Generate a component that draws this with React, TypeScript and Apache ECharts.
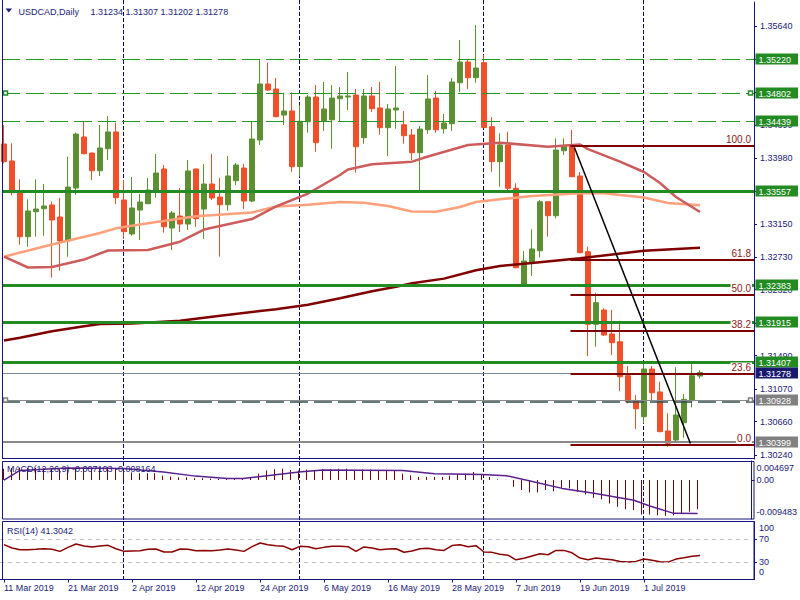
import React, { useEffect, useRef } from 'react';
import * as echarts from 'echarts';

// ---------------- data ----------------
const SYMBOL = 'USDCAD,Daily';
const SLOTS = 94; // bar slots across the chart (88 bars + right shift)

const OPEN = [1.34155,1.33941,1.33550,1.32988,1.33302,1.33340,1.33387,1.33236,1.32934,1.33601,
1.34243,1.34041,1.33818,1.34095,1.34306,1.33450,1.33022,1.33324,1.33403,1.33550,
1.33840,1.33097,1.33248,1.33147,1.33840,1.33336,1.33651,1.33487,1.33390,1.33693,
1.33852,1.33437,1.34205,1.34910,1.34847,1.34519,1.34570,1.33869,1.34435,1.34746,
1.34444,1.34460,1.34725,1.34746,1.34771,1.34234,1.34759,1.34608,1.34360,1.34582,
1.34397,1.34268,1.34045,1.34334,1.34733,1.34347,1.34410,1.34926,1.35187,1.34989,
1.35178,1.34372,1.33932,1.34142,1.33597,1.32380,1.32660,1.32811,1.33428,1.33252,
1.34070,1.34129,1.33752,1.32799,1.31885,1.32065,1.31763,1.31666,1.31238,1.30923,
1.30722,1.31322,1.31033,1.30542,1.30428,1.30646,1.30923,1.31234];

const HIGH = [1.34394,1.34163,1.33710,1.33458,1.33710,1.33651,1.33433,1.33475,1.33995,1.34297,
1.34444,1.34045,1.34394,1.34507,1.34423,1.33701,1.33739,1.33525,1.33726,1.34028,
1.33890,1.33311,1.33601,1.33953,1.33845,1.33903,1.34028,1.33726,1.34003,1.33915,
1.33903,1.34444,1.35221,1.35178,1.34985,1.34800,1.34805,1.34645,1.34771,1.34897,
1.34935,1.34897,1.34872,1.35061,1.34847,1.34847,1.34872,1.34935,1.34658,1.35136,
1.34570,1.34343,1.34381,1.35023,1.34822,1.34532,1.34985,1.35464,1.35212,1.35652,
1.35275,1.34494,1.34289,1.34309,1.33660,1.32808,1.33081,1.33450,1.33435,1.34226,
1.34226,1.34331,1.33802,1.32862,1.32283,1.32086,1.32065,1.31930,1.31360,1.30995,
1.31394,1.31360,1.31162,1.30765,1.31344,1.31008,1.31394,1.31307];

const LOW = [1.33912,1.33509,1.32887,1.32862,1.32988,1.33000,1.32471,1.32560,1.32736,1.33516,
1.34025,1.33701,1.33752,1.33953,1.33399,1.32959,1.33000,1.32946,1.33398,1.33478,
1.33038,1.32820,1.33047,1.33072,1.33113,1.32959,1.33450,1.32736,1.33315,1.33638,
1.33336,1.33424,1.34142,1.34825,1.34492,1.34394,1.33806,1.33743,1.34297,1.34057,
1.34318,1.34095,1.34444,1.34582,1.33793,1.34158,1.34557,1.34272,1.34003,1.34347,
1.34158,1.33953,1.33566,1.34284,1.34297,1.34284,1.34318,1.34809,1.34847,1.34926,
1.34355,1.33806,1.33617,1.33575,1.32590,1.32367,1.32493,1.32728,1.32988,1.33219,
1.34016,1.33738,1.32780,1.31486,1.31603,1.31737,1.31498,1.31045,1.30890,1.30567,
1.30639,1.30932,1.30528,1.30344,1.30407,1.30457,1.30840,1.31202];

const CLOSE = [1.33932,1.33542,1.32988,1.33311,1.33336,1.33374,1.33198,1.32934,1.33613,1.34280,
1.34032,1.33818,1.34104,1.34306,1.33478,1.33051,1.33349,1.33424,1.33575,1.33789,
1.33113,1.33286,1.33147,1.33815,1.33214,1.33651,1.33475,1.33390,1.33752,1.33890,
1.33437,1.34217,1.34910,1.34834,1.34498,1.34570,1.33869,1.34440,1.34746,1.34171,
1.34595,1.34733,1.34759,1.34759,1.34120,1.34759,1.34599,1.34360,1.34595,1.34608,
1.34259,1.34045,1.34343,1.34721,1.34334,1.34419,1.34935,1.35187,1.34989,1.35111,
1.34362,1.33932,1.34142,1.33597,1.32597,1.32682,1.32833,1.33428,1.33252,1.34079,
1.34120,1.33743,1.32786,1.31885,1.32157,1.31750,1.31653,1.31225,1.30911,1.30822,
1.31322,1.31024,1.30533,1.30387,1.30743,1.30941,1.31238,1.31278];

const X_LABELS = ['11 Mar 2019','21 Mar 2019','2 Apr 2019','12 Apr 2019','24 Apr 2019','6 May 2019',
  '16 May 2019','28 May 2019','7 Jun 2019','19 Jun 2019','1 Jul 2019'];
const X_LABEL_STEP = 8;
const MONTH_STARTS = [15, 37, 60, 80];

// moving averages: [bar index, price]
const MA_SALMON = [[0,1.32736],[6,1.32889],[12,1.33034],[14,1.33093],[18,1.33156],[24,1.33244],[31,1.33292],
  [34,1.33368],[38,1.33389],[42,1.33424],[45,1.33414],[48,1.33374],[51,1.33305],[54,1.33302],[57,1.33361],
  [59,1.33424],[62,1.33458],[66,1.33500],[72,1.33534],[75,1.33534],[80,1.33481],[83,1.33412],[87,1.33383]];
const MA_RED = [[0,1.32736],[3,1.32600],[6,1.32606],[10,1.32700],[13,1.32814],[18,1.32820],[22,1.32925],
  [25,1.33078],[31,1.33210],[34,1.33368],[38,1.33531],[42,1.33764],[43,1.33833],[46,1.33900],[51,1.33932],
  [53,1.33997],[58,1.34142],[62,1.34171],[68,1.34120],[72,1.34148],[73,1.34091],[77,1.33932],[80,1.33802],
  [82,1.33663],[84,1.33487],[87,1.33298]];
const MA_MAROON = [[0,1.31681],[2,1.31716],[6,1.31797],[10,1.31860],[12,1.31889],[16,1.31895],[22,1.31930],
  [26,1.31979],[32,1.32052],[34,1.32074],[38,1.32130],[42,1.32212],[46,1.32301],[49,1.32358],[51,1.32401],
  [55,1.32460],[59,1.32565],[62,1.32619],[66,1.32656],[72,1.32716],[80,1.32810],[87,1.32849]];

const PRICE_TICKS = [1.3024,1.3066,1.3107,1.3149,1.3190,1.3232,1.3273,1.3315,1.3356,1.3398,1.3439,1.3481,1.3522,1.3564];

const GREEN_LEVELS = [1.33557, 1.32383, 1.31915, 1.31407];
const GREEN_DASHED_LEVELS = [1.35220, 1.34802, 1.34439];
const GREY_DASHED_LEVEL = 1.30928;
const GREY_LEVEL = 1.30399;
const SELECTED_LEVELS = [1.34802, 1.30928];

const FIB_START = 71;
const FIB_LABELS = ['0.0', '23.6', '38.2', '50.0', '61.8', '100.0'];
const FIB_PRICES = [1.30365, 1.31254, 1.31804, 1.32248, 1.32692, 1.34129];
const TREND = [[71.3, 1.34110], [85.8, 1.30385]];

const MACD_HIST = [0.0028,0.0030,0.0031,0.0030,0.0030,0.0029,0.0028,0.0027,0.0027,0.0030,
0.0031,0.0031,0.0031,0.0032,0.0029,0.0024,0.0019,0.0017,0.0017,0.0017,
0.0011,0.0009,0.0007,0.0007,0.0005,0.0005,0.0004,0.0003,0.0003,0.0003,
0.0004,0.0008,0.0016,0.0024,0.0027,0.0028,0.0025,0.0024,0.0026,0.0025,
0.0026,0.0027,0.0028,0.0028,0.0025,0.0026,0.0026,0.0024,0.0024,0.0024,
0.0016,0.0012,0.0008,0.0008,0.0008,0.0008,0.0011,0.0015,0.0016,0.0020,
0.0015,0.0008,0.0002,0.0001,-0.0016,-0.0024,-0.0030,-0.0030,-0.0024,-0.0027,
-0.0020,-0.0020,-0.0029,-0.0035,-0.0043,-0.0047,-0.0057,-0.0065,-0.0071,-0.0073,
-0.0084,-0.0084,-0.0086,-0.0087,-0.0086,-0.0082,-0.0077,-0.007103];
const MACD_SIGNAL = [[0,0.0000],[2,0.0024],[8,0.0030],[15,0.00285],[20,0.0020],[24,0.0010],[28,0.0004],
  [30,0.0004],[33,0.0011],[37,0.0020],[40,0.0025],[50,0.0024],[54,0.0016],[60,0.0014],[63,0.0011],
  [66,-0.0002],[70,-0.0020],[74,-0.0032],[79,-0.0049],[81,-0.0063],[84,-0.0081],[87,-0.008164]];
const MACD_TICKS = [0.004697, 0, -0.009483];
const MACD_TICK_LABELS = ['0.004697', '0.00', '-0.009483'];

const RSI = [60.1,54.3,51.4,51.4,52.0,53.1,52.0,48.5,55.4,61.3,
57.8,56.1,57.8,58.9,53.1,48.5,49.1,49.6,52.0,52.5,
47.4,47.4,52.5,52.0,49.6,50.2,49.6,50.8,52.5,50.8,
48.5,56.6,63.0,60.1,58.3,57.2,51.4,57.2,56.6,53.1,
55.4,57.2,57.2,56.6,48.5,56.1,54.3,51.4,52.5,53.1,
47.0,49.0,53.0,54.0,51.4,50.2,58.5,60.0,56.6,58.3,
47.4,46.8,43.5,42.0,34.0,36.5,40.5,44.4,42.7,50.2,
50.2,46.0,37.0,34.0,36.9,35.5,34.0,31.0,30.0,31.2,
35.2,33.0,30.5,30.0,35.2,37.5,40.0,41.3042];
const RSI_TICKS = [100, 70, 30, 0];
const RSI_LEVELS = [70, 30];

// ---------------- styles ----------------
const FONT = '"Liberation Sans", Arial, sans-serif';
const TXT = '#1c1c78';
const FRAME = '#14147a';
const UP = '#5C9033';
const DOWN = '#F14E2A';
const GREEN = '#228B22';

const Y_MAX = 1.359421;
const Y_MIN = 1.301893;

const LEVEL_STYLE: any = {
  green: { stroke: GREEN, width: 3, dash: null, tag: GREEN, mark: GREEN },
  greenDash: { stroke: '#1f9a1f', width: 1, dash: [18, 6], tag: GREEN, mark: GREEN },
  bid: { stroke: '#778899', width: 1, dash: null, tag: '#191970', mark: '#778899' },
  greyDash: { stroke: '#8a8a8a', width: 1, dash: null, tag: '#808080', mark: '#808080', under: { dy: 1.5, stroke: '#2F4F4F', width: 1.5, dash: [18, 6] } },
  grey: { stroke: '#8a8a8a', width: 2, dash: null, tag: '#808080', mark: '#808080' },
};

const last = OPEN.length - 1;

function buildOption() {
  const cats = Array.from({ length: SLOTS }, (_, i) => String(i));
  const showTick = (i: number) => i % X_LABEL_STEP === 0 && i / X_LABEL_STEP < X_LABELS.length;

  const levelRows = [
    ...GREEN_LEVELS.map((p) => ({ price: p, kind: 'green' })),
    ...GREEN_DASHED_LEVELS.map((p) => ({ price: p, kind: 'greenDash' })),
    { price: CLOSE[last], kind: 'bid' },
    { price: GREY_DASHED_LEVEL, kind: 'greyDash' },
    { price: GREY_LEVEL, kind: 'grey' },
  ];

  const labelFont = { color: TXT, fontFamily: FONT, fontSize: 9 };

  const xAxes = [0, 1, 2].map((g) => ({
    type: 'category',
    gridIndex: g,
    data: cats,
    boundaryGap: true,
    axisLine: { show: g === 2, lineStyle: { color: FRAME } },
    axisTick: g === 2
      ? { show: true, alignWithLabel: true, interval: (i: number) => showTick(i), length: 3, lineStyle: { color: FRAME } }
      : { show: false },
    axisLabel: g === 2
      ? { show: true, interval: (i: number) => showTick(i), formatter: (v: string) => X_LABELS[Number(v) / X_LABEL_STEP] || '', align: 'left', margin: 4, ...labelFont }
      : { show: false },
    splitLine: { show: false },
  }));

  const yBase = {
    type: 'value', position: 'right', offset: 2,
    axisLine: { show: true, lineStyle: { color: FRAME } },
    splitLine: { show: false },
  };

  const yAxes = [
    {
      ...yBase, gridIndex: 0, min: Y_MIN, max: Y_MAX,
      axisTick: { show: true, length: 3, customValues: PRICE_TICKS, lineStyle: { color: FRAME } },
      axisLabel: { customValues: PRICE_TICKS, formatter: (v: number) => v.toFixed(5), margin: 6, ...labelFont },
    },
    {
      ...yBase, gridIndex: 1, min: MACD_TICKS[2], max: MACD_TICKS[0],
      axisTick: { show: true, length: 3, customValues: [MACD_TICKS[1]], lineStyle: { color: FRAME } },
      axisLabel: {
        customValues: MACD_TICKS, margin: 5, ...labelFont,
        formatter: (v: number) => {
          const i = MACD_TICKS.indexOf(v);
          const key = i === 0 ? 't' : i === 2 ? 'b' : 'm';
          return `{${key}|${MACD_TICK_LABELS[i]}}`;
        },
        rich: {
          t: { ...labelFont, padding: [14, 0, 0, 0] },
          m: { ...labelFont },
          b: { ...labelFont, padding: [0, 0, 14, 0] },
        },
      },
    },
    {
      ...yBase, gridIndex: 2, min: 0, max: 100,
      axisTick: { show: true, length: 3, customValues: RSI_LEVELS, lineStyle: { color: FRAME } },
      axisLabel: {
        customValues: RSI_TICKS, margin: 5, ...labelFont,
        formatter: (v: number) => {
          const key = v === 100 ? 't' : v === 0 ? 'b' : 'm';
          return `{${key}|${v}}`;
        },
        rich: {
          t: { ...labelFont, padding: [13, 0, 0, 0] },
          m: { ...labelFont },
          b: { ...labelFont, padding: [0, 0, 15, 0] },
        },
      },
    },
  ];

  const maLine = (data: number[][], color: string, width: number) => ({
    type: 'line', xAxisIndex: 0, yAxisIndex: 0, data, showSymbol: false, symbol: 'none',
    lineStyle: { color, width }, z: 3, silent: true,
  });

  const series: any[] = [
    // month separators (span all panels)
    {
      type: 'custom', xAxisIndex: 0, yAxisIndex: 0, z: 1, silent: true, clip: false,
      data: MONTH_STARTS.map((i) => [i, Y_MIN]),
      renderItem: (params: any, api: any) => {
        const x = Math.round(api.coord([api.value(0), Y_MIN])[0]) - 0.5;
        return { type: 'line', shape: { x1: x, y1: 0, x2: x, y2: 580 }, style: { stroke: '#0b0b5c', lineWidth: 1, lineDash: [4, 2] } };
      },
    },
    {
      type: 'candlestick', xAxisIndex: 0, yAxisIndex: 0, barWidth: 5, silent: true, z: 2,
      data: OPEN.map((o, i) => [o, CLOSE[i], LOW[i], HIGH[i]]),
      itemStyle: { color: UP, color0: DOWN, borderColor: UP, borderColor0: DOWN, borderWidth: 1 },
    },
    maLine(MA_SALMON, '#FFA07A', 2.5),
    maLine(MA_RED, '#CD5C5C', 2.5),
    maLine(MA_MAROON, '#800000', 2.5),
    // horizontal levels with price tags
    {
      type: 'custom', xAxisIndex: 0, yAxisIndex: 0, z: 4, silent: true, clip: false,
      data: levelRows.map((r) => [0, r.price]),
      renderItem: (params: any, api: any) => {
        const row = levelRows[params.dataIndex];
        const st = LEVEL_STYLE[row.kind];
        const cs = params.coordSys;
        const yRaw = api.coord([0, row.price])[1];
        const y = st.width % 2 === 1 ? Math.round(yRaw) + 0.5 : Math.round(yRaw);
        const xL = cs.x + 2;
        const xR = cs.x + cs.width + 2;
        const children: any[] = [
          { type: 'line', shape: { x1: xL, y1: y, x2: xR, y2: y }, style: { stroke: st.stroke, lineWidth: st.width, lineDash: st.dash || undefined } },
        ];
        if (st.under) {
          children.push({ type: 'line', shape: { x1: xL, y1: y + st.under.dy, x2: xR, y2: y + st.under.dy }, style: { stroke: st.under.stroke, lineWidth: st.under.width, lineDash: st.under.dash } });
        }
        const ty = Math.round(yRaw);
        if (SELECTED_LEVELS.indexOf(row.price) >= 0) {
          const sq = { fill: '#fff', stroke: st.mark, lineWidth: 1.5 };
          children.push({ type: 'rect', shape: { x: xL + 1.5, y: ty - 2, width: 4, height: 4 }, style: sq });
          children.push({ type: 'rect', shape: { x: xR - 5.5, y: ty - 2, width: 4, height: 4 }, style: sq });
        }
        children.push({ type: 'rect', shape: { x: xR + 1.5, y: ty - 5.5, width: 42.5, height: 11 }, style: { fill: st.tag } });
        children.push({ type: 'text', x: xR + 4.5, y: ty + 0.5, style: { text: row.price.toFixed(5), fill: '#fff', fontFamily: FONT, fontSize: 9, verticalAlign: 'middle', align: 'left' } });
        return { type: 'group', children };
      },
    },
    // Fibonacci retracement
    {
      type: 'custom', xAxisIndex: 0, yAxisIndex: 0, z: 5, silent: true, clip: false,
      data: FIB_PRICES.map((p) => [FIB_START, p]),
      renderItem: (params: any, api: any) => {
        const i = params.dataIndex;
        const cs = params.coordSys;
        const pt = api.coord([FIB_START, FIB_PRICES[i]]);
        const y = Math.round(pt[1]);
        const x1 = pt[0] - 1.5;
        const x2 = cs.x + cs.width + 2;
        return {
          type: 'group',
          children: [
            { type: 'line', shape: { x1, y1: y, x2, y2: y }, style: { stroke: '#800000', lineWidth: 2 } },
            { type: 'text', x: x2 - 2, y: y - 1.5, style: { text: FIB_LABELS[i], align: 'right', verticalAlign: 'bottom', fill: '#8B1A1A', fontFamily: FONT, fontSize: 10, backgroundColor: '#fff', padding: [0, 1, 0, 1] } },
          ],
        };
      },
    },
    // trend line
    {
      type: 'custom', xAxisIndex: 0, yAxisIndex: 0, z: 6, silent: true, clip: false,
      data: [[0, TREND[0][1]]],
      renderItem: (params: any, api: any) => {
        const band = api.size([1, 0])[0];
        const px = (p: number[]) => {
          const i = Math.floor(p[0]);
          const c = api.coord([i, p[1]]);
          return [c[0] + (p[0] - i) * band, c[1]];
        };
        const a = px(TREND[0]);
        const b = px(TREND[1]);
        return { type: 'line', shape: { x1: a[0], y1: a[1], x2: b[0], y2: b[1] }, style: { stroke: '#000', lineWidth: 1.5 } };
      },
    },
    // MACD histogram (thin crisp lines from zero)
    {
      type: 'custom', xAxisIndex: 1, yAxisIndex: 1, z: 2, silent: true,
      data: MACD_HIST.map((v, i) => [i, v]),
      renderItem: (params: any, api: any) => {
        const i = api.value(0);
        const v = api.value(1);
        const p0 = api.coord([i, 0]);
        const p1 = api.coord([i, v]);
        const x = Math.round(p0[0]) - 0.5;
        return { type: 'line', shape: { x1: x, y1: Math.round(p0[1]), x2: x, y2: p1[1] }, style: { stroke: '#800000', lineWidth: 1 } };
      },
    },
    {
      type: 'line', xAxisIndex: 1, yAxisIndex: 1, data: MACD_SIGNAL, showSymbol: false, symbol: 'none', silent: true,
      lineStyle: { color: '#5b1f8f', width: 1.5 }, z: 3,
    },
    // RSI
    {
      type: 'line', xAxisIndex: 2, yAxisIndex: 2, data: RSI, showSymbol: false, symbol: 'none', silent: true,
      lineStyle: { color: '#8B0000', width: 1.5 }, z: 3,
      markLine: {
        silent: true, symbol: 'none', label: { show: false },
        lineStyle: { color: '#c0c0c0', type: [4, 4], width: 1 },
        data: RSI_LEVELS.map((v) => ({ yAxis: v })),
      },
    },
  ];

  const headerNums = [OPEN[last], HIGH[last], LOW[last], CLOSE[last]].map((v) => v.toFixed(5)).join(' ');
  const macdTitle = `MACD(12,26,9) ${MACD_HIST[last].toFixed(6)} ${MACD_SIGNAL[MACD_SIGNAL.length - 1][1].toFixed(6)}`;
  const rsiTitle = `RSI(14) ${RSI[last].toFixed(4)}`;
  const txt = (x: number, y: number, text: string) => ({
    type: 'text', x, y, z: 20, silent: true,
    style: { text, fill: TXT, fontFamily: FONT, fontSize: 9, verticalAlign: 'middle', align: 'left' },
  });

  return {
    animation: false,
    backgroundColor: '#ffffff',
    grid: [
      { left: 0, top: 2, width: 752, height: 457 },
      { left: 0, top: 461, width: 752, height: 58 },
      { left: 0, top: 521.5, width: 752, height: 58 },
    ],
    xAxis: xAxes,
    yAxis: yAxes,
    series,
    graphic: [
      { type: 'line', z: 20, silent: true, shape: { x1: 2.5, y1: 0, x2: 2.5, y2: 459 }, style: { stroke: FRAME, lineWidth: 1 } },
      { type: 'line', z: 20, silent: true, shape: { x1: 2, y1: 458.5, x2: 754, y2: 458.5 }, style: { stroke: FRAME, lineWidth: 1 } },
      { type: 'rect', z: 20, silent: true, shape: { x: 2.5, y: 461.5, width: 751.5, height: 57.5 }, style: { fill: 'none', stroke: FRAME, lineWidth: 1 } },
      { type: 'rect', z: 20, silent: true, shape: { x: 2.5, y: 521.5, width: 751.5, height: 58 }, style: { fill: 'none', stroke: FRAME, lineWidth: 1 } },
      { type: 'polygon', z: 20, silent: true, shape: { points: [[5.5, 8.5], [12, 8.5], [8.75, 12.5]] }, style: { fill: TXT } },
      txt(18.5, 11.5, SYMBOL),
      txt(90.5, 11.5, headerNums),
      txt(7, 469, macdTitle),
      txt(7, 530.5, rsiTitle),
    ],
  };
}

export default function App() {
  const ref = useRef<HTMLDivElement>(null);
  useEffect(() => {
    const chart = echarts.init(ref.current as HTMLDivElement, null, { renderer: 'svg' });
    chart.setOption(buildOption() as any);
    return () => chart.dispose();
  }, []);
  return (
    <div
      ref={ref}
      style={{ position: 'fixed', left: 0, top: 0, width: 800, height: 600, background: '#fff' }}
    />
  );
}
